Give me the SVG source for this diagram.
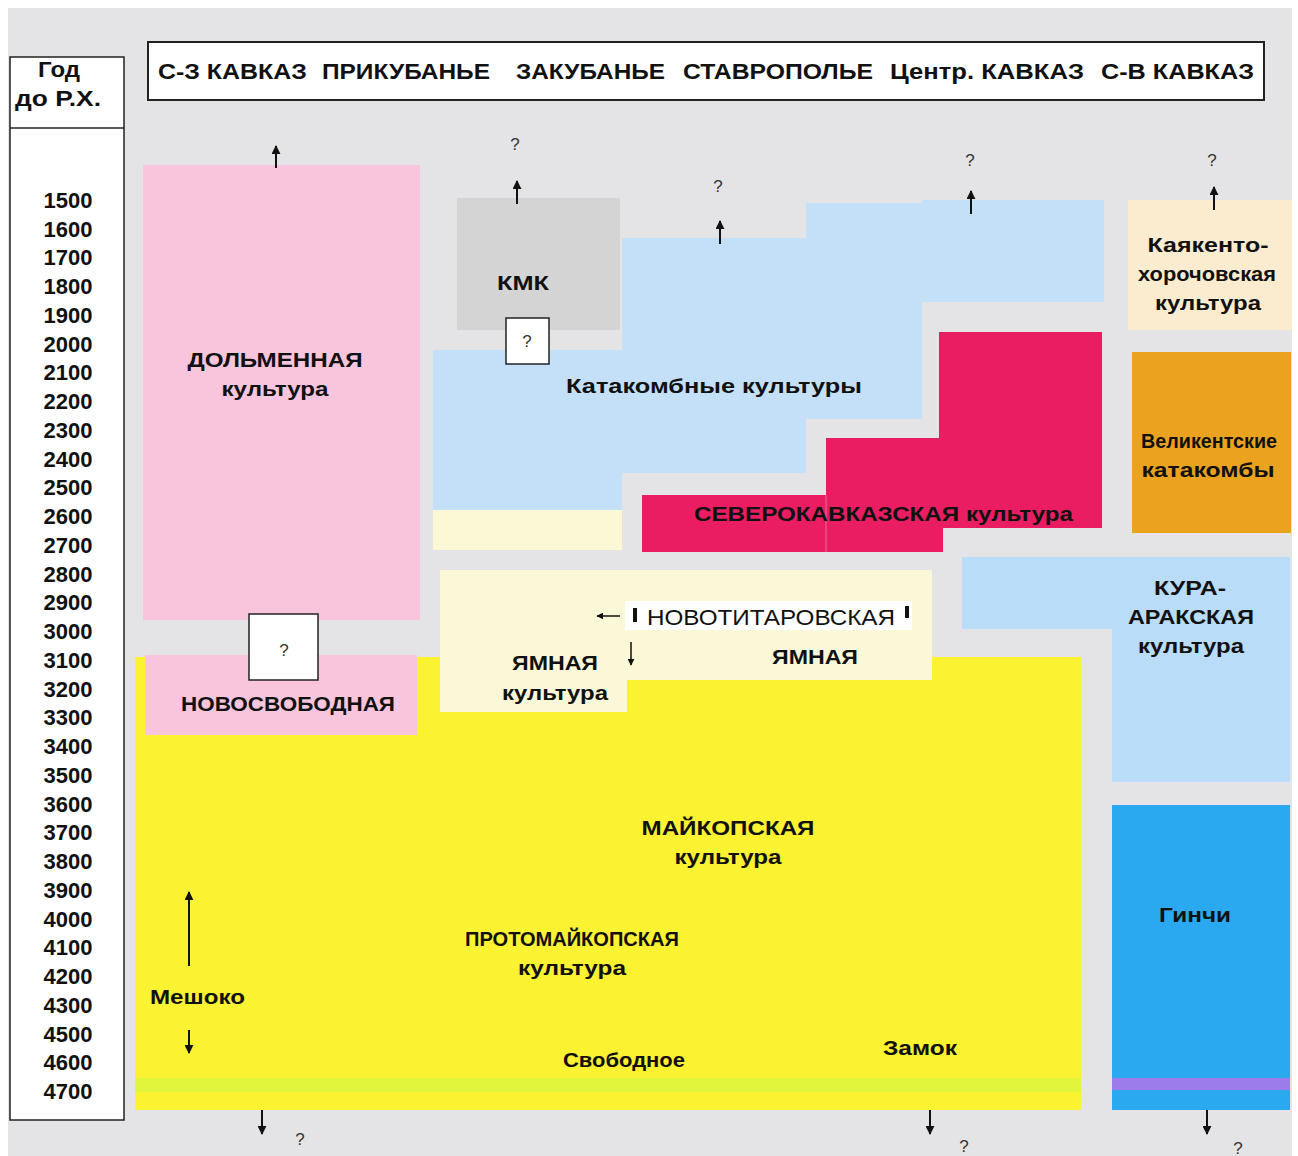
<svg xmlns="http://www.w3.org/2000/svg" width="1298" height="1156" viewBox="0 0 1298 1156">
<style>
  text { font-family: "Liberation Sans", Arial, sans-serif; fill: #111; }
  .b { font-weight: bold; font-size: 21px; }
  .yr { font-weight: bold; font-size: 22px; text-anchor: middle; }
  .hd { font-weight: bold; font-size: 22px; }
  .q { font-size: 17px; text-anchor: middle; fill: #333; }
  .c { text-anchor: middle; }
  .conn { stroke: #111; stroke-width: 2; fill: none; }
  .thin { stroke: #111; stroke-width: 1.5; fill: none; }
  .qbox { fill: #fff; stroke: #222; stroke-width: 1.5; }
</style>
<defs>
  <marker id="ah" viewBox="0 0 10 10" refX="9" refY="5" markerWidth="9" markerHeight="9" markerUnits="userSpaceOnUse" orient="auto">
    <path d="M0,0 L10,5 L0,10 z" fill="#111"/>
  </marker>
  <marker id="ahs" viewBox="0 0 10 10" refX="9" refY="5" markerWidth="7" markerHeight="7" markerUnits="userSpaceOnUse" orient="auto">
    <path d="M0,0 L10,5 L0,10 z" fill="#111"/>
  </marker>
</defs>

<!-- background -->
<rect x="0" y="0" width="1298" height="1156" fill="#ffffff"/>
<rect x="8" y="8" width="1284" height="1148" fill="#e4e4e6"/>

<!-- year axis -->
<g id="year-axis">
  <rect x="10" y="57" width="114" height="1063" fill="#ffffff" stroke="#222" stroke-width="1.5"/>
  <line x1="10" y1="128" x2="124" y2="128" stroke="#222" stroke-width="1.5"/>
  <text class="hd c" x="59" y="77" textLength="42" lengthAdjust="spacingAndGlyphs">Год</text>
  <text class="hd c" x="58" y="106" textLength="86" lengthAdjust="spacingAndGlyphs">до Р.Х.</text>
  <text class="yr" x="68" y="208">1500</text>
  <text class="yr" x="68" y="237">1600</text>
  <text class="yr" x="68" y="265">1700</text>
  <text class="yr" x="68" y="294">1800</text>
  <text class="yr" x="68" y="323">1900</text>
  <text class="yr" x="68" y="352">2000</text>
  <text class="yr" x="68" y="380">2100</text>
  <text class="yr" x="68" y="409">2200</text>
  <text class="yr" x="68" y="438">2300</text>
  <text class="yr" x="68" y="467">2400</text>
  <text class="yr" x="68" y="495">2500</text>
  <text class="yr" x="68" y="524">2600</text>
  <text class="yr" x="68" y="553">2700</text>
  <text class="yr" x="68" y="582">2800</text>
  <text class="yr" x="68" y="610">2900</text>
  <text class="yr" x="68" y="639">3000</text>
  <text class="yr" x="68" y="668">3100</text>
  <text class="yr" x="68" y="697">3200</text>
  <text class="yr" x="68" y="725">3300</text>
  <text class="yr" x="68" y="754">3400</text>
  <text class="yr" x="68" y="783">3500</text>
  <text class="yr" x="68" y="812">3600</text>
  <text class="yr" x="68" y="840">3700</text>
  <text class="yr" x="68" y="869">3800</text>
  <text class="yr" x="68" y="898">3900</text>
  <text class="yr" x="68" y="927">4000</text>
  <text class="yr" x="68" y="955">4100</text>
  <text class="yr" x="68" y="984">4200</text>
  <text class="yr" x="68" y="1013">4300</text>
  <text class="yr" x="68" y="1042">4500</text>
  <text class="yr" x="68" y="1070">4600</text>
  <text class="yr" x="68" y="1099">4700</text>
</g>

<!-- header -->
<g id="header">
  <rect x="148" y="42" width="1116" height="58" fill="#ffffff" stroke="#222" stroke-width="2"/>
  <text class="hd" x="158" y="79" textLength="149" lengthAdjust="spacingAndGlyphs">С-З КАВКАЗ</text>
  <text class="hd" x="322" y="79" textLength="168" lengthAdjust="spacingAndGlyphs">ПРИКУБАНЬЕ</text>
  <text class="hd" x="516" y="79" textLength="149" lengthAdjust="spacingAndGlyphs">ЗАКУБАНЬЕ</text>
  <text class="hd" x="683" y="79" textLength="190" lengthAdjust="spacingAndGlyphs">СТАВРОПОЛЬЕ</text>
  <text class="hd" x="890" y="79" textLength="194" lengthAdjust="spacingAndGlyphs">Центр. КАВКАЗ</text>
  <text class="hd" x="1101" y="79" textLength="153" lengthAdjust="spacingAndGlyphs">С-В КАВКАЗ</text>
</g>

<!-- Maykop (yellow) -->
<g id="maykop">
  <rect x="135" y="657" width="946" height="453" fill="#fbf232"/>
  <rect x="135" y="1078" width="946" height="14" fill="#e0f53c"/>
  <text class="b c" x="728" y="835" textLength="173" lengthAdjust="spacingAndGlyphs">МАЙКОПСКАЯ</text>
  <text class="b c" x="728" y="864" textLength="107" lengthAdjust="spacingAndGlyphs">культура</text>
</g>
<g id="protomaykop">
  <text class="b c" x="572" y="946" textLength="214" lengthAdjust="spacingAndGlyphs">ПРОТОМАЙКОПСКАЯ</text>
  <text class="b c" x="572" y="975" textLength="108" lengthAdjust="spacingAndGlyphs">культура</text>
</g>
<g id="meshoko">
  <text class="b" x="150" y="1004" textLength="95" lengthAdjust="spacingAndGlyphs">Мешоко</text>
</g>
<g id="svobodnoe">
  <text class="b c" x="624" y="1067" textLength="122" lengthAdjust="spacingAndGlyphs">Свободное</text>
</g>
<g id="zamok">
  <text class="b c" x="920" y="1055" textLength="74" lengthAdjust="spacingAndGlyphs">Замок</text>
</g>

<!-- Dolmen -->
<g id="dolmen">
  <rect x="143" y="165" width="277" height="455" fill="#f8c5dc"/>
  <text class="b c" x="275" y="367" textLength="175" lengthAdjust="spacingAndGlyphs">ДОЛЬМЕННАЯ</text>
  <text class="b c" x="275" y="396" textLength="107" lengthAdjust="spacingAndGlyphs">культура</text>
</g>

<!-- Novosvobodnaya -->
<g id="novosvobodnaya">
  <rect x="145" y="655" width="272" height="80" fill="#f8c5dc"/>
  <text class="b c" x="288" y="711" textLength="214" lengthAdjust="spacingAndGlyphs">НОВОСВОБОДНАЯ</text>
</g>
<g id="q-novosvob">
  <rect class="qbox" x="249" y="614" width="69" height="66"/>
  <text class="q" x="284" y="656">?</text>
</g>

<!-- Catacomb (light blue) -->
<g id="catacomb">
  <rect x="433" y="350" width="189" height="160" fill="#c4e0f8"/>
  <rect x="433" y="510" width="189" height="40" fill="#fbf8d6"/>
  <rect x="622" y="238" width="184" height="235" fill="#c4e0f8"/>
  <rect x="806" y="203" width="116" height="216" fill="#c4e0f8"/>
  <rect x="922" y="200" width="182" height="102" fill="#c4e0f8"/>
  <text class="b" x="566" y="393" textLength="296" lengthAdjust="spacingAndGlyphs">Катакомбные  культуры</text>
</g>

<!-- KMK -->
<g id="kmk">
  <rect x="457" y="198" width="163" height="132" fill="#d4d4d4"/>
  <text class="b c" x="523" y="290" textLength="52" lengthAdjust="spacingAndGlyphs">КМК</text>
</g>
<g id="q-kmk">
  <rect class="qbox" x="506" y="318" width="43" height="46"/>
  <text class="q" x="527" y="347">?</text>
</g>

<!-- North Caucasian (red) -->
<g id="severokavkaz">
  <path d="M642,495 L826,495 L826,438 L939,438 L939,332 L1102,332 L1102,528 L943,528 L943,552 L642,552 Z" fill="#ea1c62"/>
  <line x1="826" y1="495" x2="826" y2="552" stroke="#f06a94" stroke-width="1"/>
  <text class="b" x="694" y="521" textLength="379" lengthAdjust="spacingAndGlyphs">СЕВЕРОКАВКАЗСКАЯ культура</text>
</g>

<!-- Kayakent -->
<g id="kayakent">
  <rect x="1128" y="200" width="164" height="130" fill="#fbecd0"/>
  <text class="b c" x="1208" y="252" textLength="121" lengthAdjust="spacingAndGlyphs">Каякенто-</text>
  <text class="b c" x="1207" y="281" textLength="138" lengthAdjust="spacingAndGlyphs">хорочовская</text>
  <text class="b c" x="1208" y="310" textLength="106" lengthAdjust="spacingAndGlyphs">культура</text>
</g>

<!-- Velikent -->
<g id="velikent">
  <rect x="1132" y="352" width="159" height="181" fill="#eba31f"/>
  <text class="b c" x="1209" y="448" textLength="136" lengthAdjust="spacingAndGlyphs">Великентские</text>
  <text class="b c" x="1208" y="477" textLength="133" lengthAdjust="spacingAndGlyphs">катакомбы</text>
</g>

<!-- Kura-Araxes -->
<g id="kura-araks">
  <path d="M962,557 L1290,557 L1290,782 L1112,782 L1112,629 L962,629 Z" fill="#b9dcf8"/>
  <text class="b c" x="1190" y="595" textLength="72" lengthAdjust="spacingAndGlyphs">КУРА-</text>
  <text class="b c" x="1191" y="624" textLength="126" lengthAdjust="spacingAndGlyphs">АРАКСКАЯ</text>
  <text class="b c" x="1191" y="653" textLength="106" lengthAdjust="spacingAndGlyphs">культура</text>
</g>

<!-- Ginchi -->
<g id="ginchi">
  <rect x="1112" y="805" width="178" height="305" fill="#2aa8f0"/>
  <rect x="1112" y="1078" width="178" height="12" fill="#9c7ce8"/>
  <text class="b c" x="1195" y="922" textLength="72" lengthAdjust="spacingAndGlyphs">Гинчи</text>
</g>

<!-- Yamnaya -->
<g id="yamnaya">
  <path d="M440,570 L932,570 L932,680 L627,680 L627,712 L440,712 Z" fill="#fbf8d8"/>
  <text class="b c" x="555" y="670" textLength="86" lengthAdjust="spacingAndGlyphs">ЯМНАЯ</text>
  <text class="b c" x="555" y="700" textLength="106" lengthAdjust="spacingAndGlyphs">культура</text>
  <text class="b c" x="815" y="664" textLength="86" lengthAdjust="spacingAndGlyphs">ЯМНАЯ</text>
</g>

<!-- Novotitarovskaya -->
<g id="novotitarovskaya">
  <rect x="625" y="601" width="287" height="29" fill="#ffffff"/>
  <rect x="633" y="608" width="4" height="14" fill="#111"/>
  <rect x="905" y="606" width="4" height="12" fill="#111"/>
  <text x="647" y="625" font-size="22" textLength="248" lengthAdjust="spacingAndGlyphs">НОВОТИТАРОВСКАЯ</text>
</g>

<!-- question marks -->
<g id="question-marks">
  <text class="q" x="515" y="150">?</text>
  <text class="q" x="718" y="192">?</text>
  <text class="q" x="970" y="166">?</text>
  <text class="q" x="1212" y="166">?</text>
  <text class="q" x="300" y="1145">?</text>
  <text class="q" x="964" y="1152">?</text>
  <text class="q" x="1238" y="1154">?</text>
</g>

<!-- connectors -->
<g id="connectors">
  <line class="conn" x1="276" y1="168" x2="276" y2="146" marker-end="url(#ah)"/>
  <line class="conn" x1="517" y1="204" x2="517" y2="181" marker-end="url(#ah)"/>
  <line class="conn" x1="720" y1="244" x2="720" y2="221" marker-end="url(#ah)"/>
  <line class="conn" x1="971" y1="214" x2="971" y2="191" marker-end="url(#ah)"/>
  <line class="conn" x1="1214" y1="210" x2="1214" y2="187" marker-end="url(#ah)"/>
  <line class="conn" x1="189" y1="966" x2="189" y2="892" marker-end="url(#ah)"/>
  <line class="conn" x1="189" y1="1030" x2="189" y2="1053" marker-end="url(#ah)"/>
  <line class="thin" x1="620" y1="616" x2="597" y2="616" marker-end="url(#ahs)"/>
  <line class="thin" x1="631" y1="642" x2="631" y2="665" marker-end="url(#ahs)"/>
  <line class="conn" x1="262" y1="1110" x2="262" y2="1134" marker-end="url(#ah)"/>
  <line class="conn" x1="930" y1="1110" x2="930" y2="1134" marker-end="url(#ah)"/>
  <line class="conn" x1="1207" y1="1110" x2="1207" y2="1134" marker-end="url(#ah)"/>
</g>
</svg>
